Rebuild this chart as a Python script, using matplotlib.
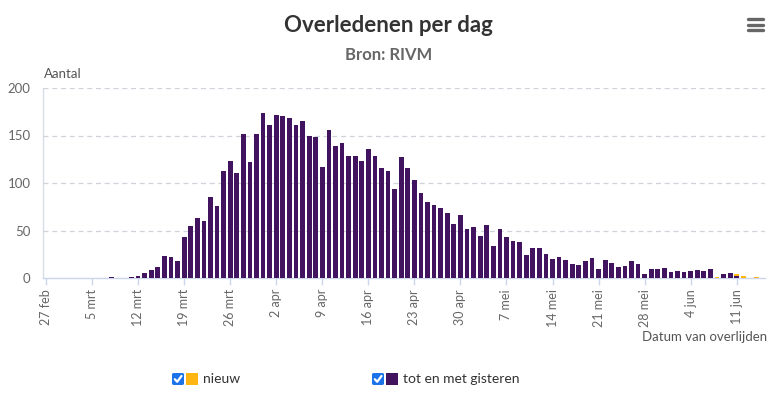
import numpy as np
import matplotlib
matplotlib.use("Agg")
import matplotlib.pyplot as plt
import matplotlib.dates as mdates
from matplotlib.patches import FancyBboxPatch, Rectangle
from matplotlib.lines import Line2D

# ---------------- data ----------------
start_date = np.datetime64("2020-02-27")
n_days = 109
dates = start_date + np.arange(n_days)

tot_en_met_gisteren = [
    0, 0, 0, 0, 0, 0, 0, 0, 0, 0,
    1, 0, 0, 1, 2, 5, 8, 12, 23, 22,
    18, 43, 55, 63, 60, 85, 76, 113, 123, 111,
    152, 122, 152, 174, 161, 172, 171, 168, 161, 165,
    150, 148, 117, 156, 139, 142, 128, 128, 123, 136,
    128, 116, 113, 94, 127, 116, 103, 90, 80, 77,
    74, 68, 57, 66, 52, 54, 44, 56, 34, 52,
    43, 39, 38, 24, 32, 32, 25, 20, 22, 19,
    15, 14, 18, 21, 10, 19, 16, 12, 13, 18,
    15, 4, 10, 10, 11, 6, 7, 6, 7, 8,
    7, 9, 0, 4, 5, 2, 0, 0, 0,
]
nieuw = [0] * n_days
nieuw[102] = 1
nieuw[105] = 2
nieuw[106] = 2
nieuw[108] = 1

tick_dates = ["2020-02-27", "2020-03-05", "2020-03-12", "2020-03-19", "2020-03-26",
              "2020-04-02", "2020-04-09", "2020-04-16", "2020-04-23", "2020-04-30",
              "2020-05-07", "2020-05-14", "2020-05-21", "2020-05-28", "2020-06-04",
              "2020-06-11"]
tick_labels = ["27 feb", "5 mrt", "12 mrt", "19 mrt", "26 mrt", "2 apr", "9 apr",
               "16 apr", "23 apr", "30 apr", "7 mei", "14 mei", "21 mei", "28 mei",
               "4 jun", "11 jun"]
y_ticks = [0, 50, 100, 150, 200]

title = "Overledenen per dag"
subtitle = "Bron: RIVM"
y_title = "Aantal"
x_title = "Datum van overlijden"
legend_labels = ["nieuw", "tot en met gisteren"]

# ---------------- style ----------------
PURPLE = "#42145f"
YELLOW = "#ffb612"
GRID = "#cfd3da"
AXIS = "#ccd6eb"
LABEL = "#666666"
FONT = ["Lato", "DejaVu Sans"]
plt.rcParams["font.family"] = FONT

W, H = 779, 394
fig = plt.figure(figsize=(W / 100, H / 100), dpi=100)
fig.patch.set_facecolor("white")

left, right, top, bottom = 43, 765, 88, 278
ax = fig.add_axes([left / W, 1 - bottom / H, (right - left) / W, (bottom - top) / H])

x = mdates.date2num(dates.astype("datetime64[D]").astype(object))
bw = 0.72
ax.bar(x, tot_en_met_gisteren, width=bw, color=PURPLE, linewidth=0, zorder=3)
ax.bar(x, nieuw, width=bw, bottom=tot_en_met_gisteren, color=YELLOW, linewidth=0, zorder=3)

ax.set_xlim(x[0] - 0.46, x[0] + 109.3)
ax.set_ylim(0, 200)

tx = mdates.date2num([np.datetime64(d).astype(object) for d in tick_dates])
ax.set_xticks(tx)
ax.set_xticklabels(tick_labels, rotation=90, fontsize=9, color=LABEL,
                   ha="center", va="top")
ax.tick_params(axis="x", length=5, width=1, color=AXIS, pad=3)

ax.set_yticks(y_ticks)
ax.set_yticklabels([str(v) for v in y_ticks], fontsize=9.5, color=LABEL)
ax.tick_params(axis="y", length=0, pad=9)

for v in y_ticks[1:]:
    ax.axhline(v, color=GRID, lw=0.9, ls=(0, (4, 3)), zorder=1)

for s in ["top", "right"]:
    ax.spines[s].set_visible(False)
ax.spines["bottom"].set_color(AXIS)
ax.spines["bottom"].set_linewidth(1)
ax.spines["left"].set_color("#d8dde6")
ax.spines["left"].set_linewidth(1)
ax.set_facecolor("white")

# ---------------- texts ----------------
fig.text(388 / W, 1 - 25 / H, title, ha="center", va="center", fontsize=16,
         fontweight="bold", color="#333333")
fig.text(389 / W, 1 - 55 / H, subtitle, ha="center", va="center", fontsize=12,
         fontweight="bold", color=LABEL)
fig.text(44 / W, 1 - 74 / H, y_title, ha="left", va="center", fontsize=9.5,
         color="#555555")
fig.text(767 / W, 1 - 337 / H, x_title, ha="right", va="center", fontsize=9.5,
         color="#555555")

# hamburger menu
for yy in (19, 24.5, 30):
    fig.add_artist(Line2D([748 / W, 763 / W], [1 - yy / H] * 2, color="#666666",
                          lw=2.4, solid_capstyle="round"))

# legend
def checkbox(px, py):
    s = 12
    box = FancyBboxPatch((px / W, 1 - (py + s / 2) / H), s / W, s / H,
                         boxstyle="round,pad=0,rounding_size=0.003",
                         transform=fig.transFigure, facecolor="#1a73e8",
                         edgecolor="none")
    fig.add_artist(box)
    cx = [px + 2.8, px + 5.2, px + 9.5]
    cy = [py + 0.2, py + 2.8, py - 3.0]
    fig.add_artist(Line2D([c / W for c in cx], [1 - c / H for c in cy],
                          color="white", lw=1.6, solid_capstyle="round",
                          solid_joinstyle="round"))

leg_y = 379
for px, col, lab in [(172, YELLOW, legend_labels[0]), (372, PURPLE, legend_labels[1])]:
    checkbox(px, leg_y)
    fig.add_artist(Rectangle(((px + 14) / W, 1 - (leg_y + 6) / H), 12 / W, 12 / H,
                             transform=fig.transFigure, facecolor=col, edgecolor="none"))
    fig.text((px + 31) / W, 1 - leg_y / H, lab, ha="left", va="center",
             fontsize=10, color="#333333")

fig.savefig("out.png", dpi=100, facecolor="white")
